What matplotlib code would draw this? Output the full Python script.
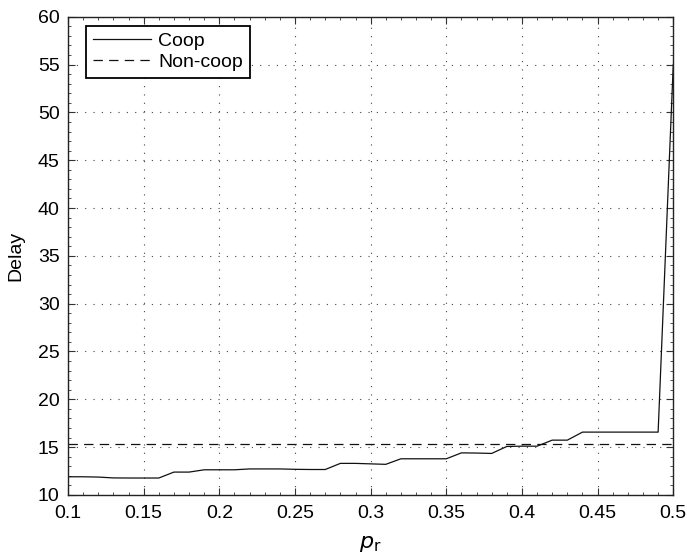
import matplotlib
matplotlib.use("Agg")
import matplotlib.pyplot as plt
from matplotlib.ticker import MultipleLocator

plt.rcParams['font.family'] = ['Liberation Sans', 'DejaVu Sans']

p_r = [0.10, 0.11, 0.12, 0.13, 0.14, 0.15, 0.16, 0.17, 0.18, 0.19, 0.20,
       0.21, 0.22, 0.23, 0.24, 0.25, 0.26, 0.27, 0.28, 0.29, 0.30,
       0.31, 0.32, 0.33, 0.34, 0.35, 0.36, 0.37, 0.38, 0.39, 0.40,
       0.41, 0.42, 0.43, 0.44, 0.45, 0.46, 0.47, 0.48, 0.49, 0.50]
coop = [11.9, 11.9, 11.87, 11.78, 11.77, 11.77, 11.77, 12.39, 12.39, 12.63, 12.63,
        12.63, 12.72, 12.72, 12.72, 12.68, 12.66, 12.66, 13.3, 13.3, 13.25,
        13.2, 13.78, 13.78, 13.78, 13.78, 14.4, 14.38, 14.34, 15.07, 15.1,
        15.1, 15.73, 15.73, 16.57, 16.57, 16.57, 16.57, 16.57, 16.57, 55.0]
noncoop_value = 15.3

fig = plt.figure(figsize=(6.87, 5.58), dpi=100)
ax = fig.add_axes([0.099, 0.113, 0.881, 0.857])

ax.plot(p_r, coop, color='#111111', linewidth=0.9, label='Coop')
ax.plot([p_r[0], p_r[-1]], [noncoop_value, noncoop_value], color='#111111',
        linewidth=0.9, linestyle=(0, (7.5, 5)), label='Non-coop')

ax.set_xlim(0.1, 0.5)
ax.set_ylim(10, 60)
ax.set_xticks([0.1, 0.15, 0.2, 0.25, 0.3, 0.35, 0.4, 0.45, 0.5])
ax.set_xticklabels(['0.1', '0.15', '0.2', '0.25', '0.3', '0.35', '0.4', '0.45', '0.5'])
ax.set_yticks(range(10, 61, 5))
ax.xaxis.set_minor_locator(MultipleLocator(0.01))
ax.yaxis.set_minor_locator(MultipleLocator(1))
ax.tick_params(which='both', direction='in', top=True, right=True, labelsize=14, color='#333333')
ax.tick_params(axis='x', which='major', pad=7)
ax.tick_params(axis='y', which='major', pad=6)
ax.tick_params(which='major', length=5, width=0.8)
ax.tick_params(which='minor', length=2.5, width=0.6)
ax.grid(True, which='major', linestyle=(0, (1, 6.5)), color='#444444', linewidth=0.8)
for s in ax.spines.values():
    s.set_linewidth(1.0)
    s.set_color('#222222')

ax.set_xlabel(r'$p_{\mathrm{r}}$', fontsize=16, labelpad=8)
ax.set_ylabel('Delay', fontsize=14, labelpad=10)

leg = ax.legend(loc='upper left', bbox_to_anchor=(0.03, 0.981), borderaxespad=0,
                fontsize=14, frameon=True, fancybox=False,
                edgecolor='black', framealpha=1, handlelength=3.0, borderpad=0.35,
                labelspacing=0.15, handletextpad=0.35)
leg.get_frame().set_linewidth(1.3)

fig.savefig('out.png', dpi=100)
